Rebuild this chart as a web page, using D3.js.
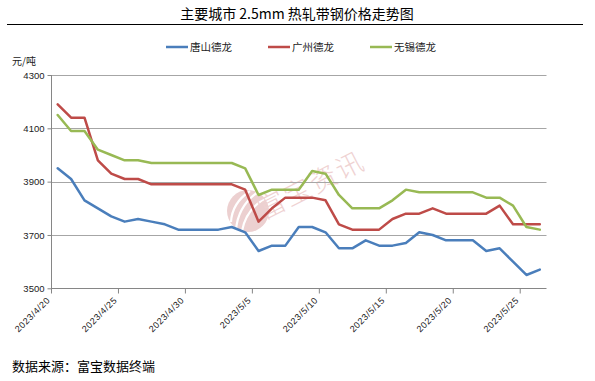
<!DOCTYPE html>
<html><head><meta charset="utf-8">
<script src="https://cdn.jsdelivr.net/npm/d3@7/dist/d3.min.js"></script>
<style>
html,body{margin:0;padding:0;background:#fff;}
svg{display:block;}
</style></head>
<body>
<svg id="chart" width="595" height="381"></svg>
<script>
const categories = ["2023/4/20","2023/4/21","2023/4/22","2023/4/23","2023/4/24","2023/4/25","2023/4/26","2023/4/27","2023/4/28","2023/4/29","2023/4/30",
"2023/5/1","2023/5/2","2023/5/3","2023/5/4","2023/5/5","2023/5/6","2023/5/7","2023/5/8","2023/5/9","2023/5/10",
"2023/5/11","2023/5/12","2023/5/13","2023/5/14","2023/5/15","2023/5/16","2023/5/17","2023/5/18","2023/5/19","2023/5/20",
"2023/5/21","2023/5/22","2023/5/23","2023/5/24","2023/5/25","2023/5/26"];
const tickLabels = ["2023/4/20","2023/4/25","2023/4/30","2023/5/5","2023/5/10","2023/5/15","2023/5/20","2023/5/25"];
const yTicks = [3500,3700,3900,4100,4300];
const tangshan = [3950,3910,3830,3800,3770,3750,3760,3750,3740,3720,3720,3720,3720,3730,3710,3640,3660,3660,3730,3730,3710,3650,3650,3680,3660,3660,3670,3710,3700,3680,3680,3680,3640,3650,3600,3550,3570];
const guangzhou = [4190,4140,4140,3980,3930,3910,3910,3890,3890,3890,3890,3890,3890,3890,3870,3750,3800,3840,3840,3840,3830,3740,3720,3720,3720,3760,3780,3780,3800,3780,3780,3780,3780,3810,3740,3740,3740];
const wuxi = [4150,4090,4090,4020,4000,3980,3980,3970,3970,3970,3970,3970,3970,3970,3950,3850,3870,3870,3870,3940,3930,3850,3800,3800,3800,3830,3870,3860,3860,3860,3860,3860,3840,3840,3810,3730,3720];
const seriesNames = ["唐山德龙","广州德龙","无锡德龙"];
const seriesColors = ["#4a7ebb","#be4b48","#98b954"];

const svg = d3.select("#chart");
const L = 51, R = 546.5, T = 75, B = 288.3;
const x = d3.scaleBand().domain(categories).range([L, R]).paddingInner(0).paddingOuter(0);
const y = d3.scaleLinear().domain([3500, 4300]).range([B, T]);
const cx = d => x(d) + x.bandwidth()/2;

// Title
svg.append("text").attr("x", 297).attr("y", 19).attr("text-anchor","middle")
  .attr("font-family","'Noto Sans CJK SC', sans-serif").attr("font-size",14).attr("fill","#000")
  .text("主要城市 2.5mm 热轧带钢价格走势图");
svg.append("line").attr("x1",7).attr("x2",583).attr("y1",24.5).attr("y2",24.5)
  .attr("stroke","#000").attr("stroke-width",1.2);

// Watermark
const wm = svg.append("g");
wm.append("circle").attr("cx",248).attr("cy",211).attr("r",21).attr("fill","#ecd0d0");
wm.append("path").attr("d","M236,230 Q238,206 258,192 M242,231 Q246,210 264,199 M231,222 Q232,203 250,191")
  .attr("stroke","#fff").attr("stroke-width",2.2).attr("fill","none");
wm.append("text").attr("transform","translate(264,220) rotate(-27)")
  .attr("font-family","'Noto Sans CJK SC', sans-serif").attr("font-size",27).attr("font-weight",300)
  .attr("fill","#efd2d2").attr("letter-spacing",2).text("富宝资讯");

// Gridlines
svg.append("g").selectAll("line").data(yTicks.filter(v=>v>3500)).join("line")
  .attr("x1",L).attr("x2",R).attr("y1",d=>Math.round(y(d))+0.5).attr("y2",d=>Math.round(y(d))+0.5)
  .attr("stroke","#a6a6a6").attr("stroke-width",1);

// Y axis
const yAxis = d3.axisLeft(y).tickValues(yTicks).tickSize(4).tickFormat(d3.format("d"));
const gy = svg.append("g").attr("transform",`translate(${L+0.5},0)`).call(yAxis);
gy.selectAll(".tick line").attr("stroke","#868686");
gy.selectAll(".tick text").attr("font-family","'Liberation Sans', Arial, sans-serif").attr("font-size",9.5).attr("fill","#222").attr("x",-7);
gy.select(".domain").attr("stroke","#868686").attr("d",`M0,${T}V${B}`);

// unit
svg.append("text").attr("x",12).attr("y",65).attr("font-family","'Noto Sans CJK SC', sans-serif")
  .attr("font-size",10).attr("fill","#222").text("元/吨");

// X axis
const xAxis = d3.axisBottom(x).tickValues(tickLabels).tickSize(5).tickFormat(d=>d);
const gx = svg.append("g").attr("transform",`translate(0,${Math.round(B)+0.5})`).call(xAxis);
gx.select(".domain").attr("stroke","#868686").attr("d",`M${L},0H${R}`);
gx.selectAll(".tick").attr("transform", d => `translate(${x(d)+0.5},0)`);
gx.selectAll(".tick line").attr("stroke","#868686");
gx.selectAll(".tick text").attr("font-family","'Liberation Sans', Arial, sans-serif").attr("font-size",9)
  .attr("fill","#222").attr("text-anchor","end").attr("letter-spacing",0.6)
  .attr("transform","translate(-3,10) rotate(-45)").attr("x",0).attr("y",0).attr("dy","0.35em");

// Lines
const allSeries = [tangshan, guangzhou, wuxi];
const line = d3.line().x((d,i)=>cx(categories[i])).y(d=>y(d));
svg.append("g").selectAll("path").data(allSeries).join("path")
  .attr("d", d=>line(d)).attr("fill","none")
  .attr("stroke",(d,i)=>seriesColors[i]).attr("stroke-width",2.5)
  .attr("stroke-linejoin","round").attr("stroke-linecap","round");

// Legend
const legendX = [166, 268, 370];
const lg = svg.append("g").selectAll("g").data(seriesNames).join("g")
  .attr("transform",(d,i)=>`translate(${legendX[i]},47)`);
lg.append("line").attr("x1",0).attr("x2",22).attr("y1",0).attr("y2",0)
  .attr("stroke",(d,i)=>seriesColors[i]).attr("stroke-width",2.5);
lg.append("text").attr("x",24).attr("y",4).attr("font-family","'Noto Sans CJK SC', sans-serif")
  .attr("font-size",10.5).attr("fill","#222").text(d=>d);

// Source
svg.append("text").attr("x",12).attr("y",371).attr("font-family","'Noto Sans CJK SC', sans-serif")
  .attr("font-size",13).attr("fill","#000").text("数据来源：富宝数据终端");
</script>
</body></html>
